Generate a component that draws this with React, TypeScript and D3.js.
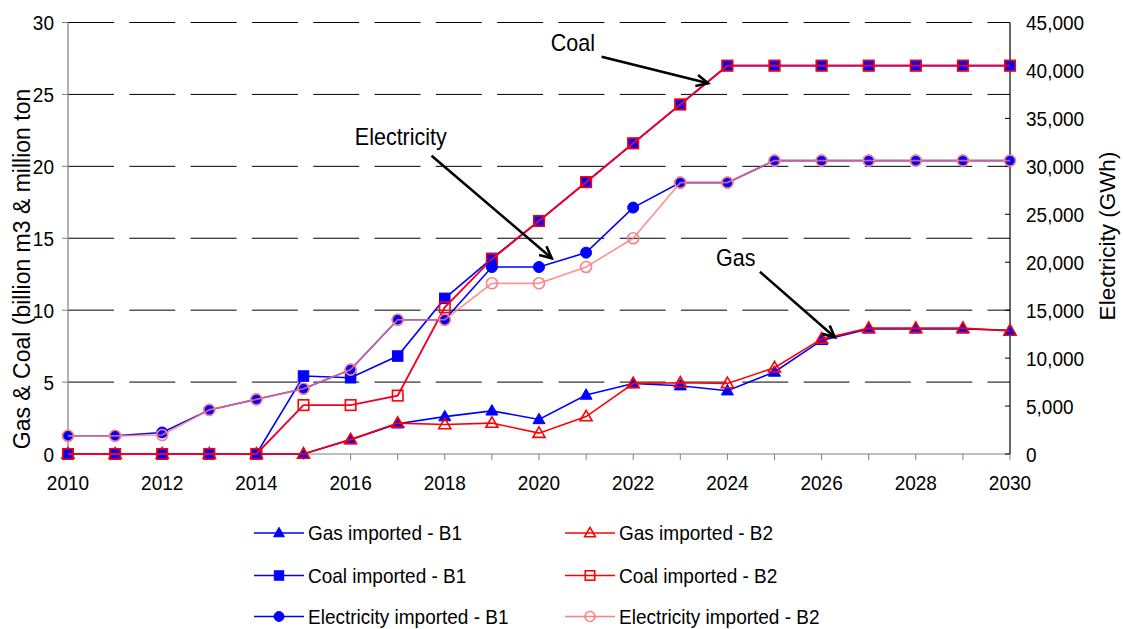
import React from "react";
import * as d3 from "d3";

const years = d3.range(2010, 2031);
const gasB1 = [0, 0, 0, 0, 0, 0, 1.0, 2.1, 2.6, 3.0, 2.4, 4.1, 4.9, 4.75, 4.4, 5.7, 7.9, 8.7, 8.7, 8.7, 8.6];
const gasB2 = [0, 0, 0, 0, 0, 0, 1.0, 2.15, 2.05, 2.15, 1.45, 2.6, 4.9, 4.95, 4.9, 6.0, 8.0, 8.75, 8.75, 8.75, 8.55];
const coalB1 = [0, 0, 0, 0, 0, 5.42, 5.3, 6.81, 10.82, 13.6, 16.2, 18.9, 21.6, 24.3, 27.0, 27.0, 27.0, 27.0, 27.0, 27.0, 27.0];
const coalB2 = [0, 0, 0, 0, 0, 3.4, 3.4, 4.06, 10.2, 13.55, 16.2, 18.9, 21.6, 24.3, 27.0, 27.0, 27.0, 27.0, 27.0, 27.0, 27.0];
const elecB1 = [1900, 1900, 2250, 4600, 5700, 6800, 8800, 14000, 14000, 19500, 19500, 21000, 25700, 28300, 28300, 30600, 30600, 30600, 30600, 30600, 30600];
const elecB2 = [1900, 1900, 1980, 4600, 5700, 6800, 8800, 14000, 14000, 17800, 17800, 19500, 22500, 28300, 28300, 30600, 30600, 30600, 30600, 30600, 30600];

const leftTicks = [0, 5, 10, 15, 20, 25, 30];
const rightTicks = d3.range(0, 45001, 5000);
const xLabelYears = d3.range(2010, 2031, 2);

const leftTitle = "Gas & Coal (billion m3 & million ton";
const rightTitle = "Electricity (GWh)";

type Series = {
  name: string;
  values: number[];
  axis: "L" | "R";
  color: string;
  lineColor: string;
  legendLine: string;
  lineOpacity: number;
  lineWidth: number;
  marker: "tri" | "sq" | "circ";
  filled: boolean;
};

const series: Series[] = [
  { name: "Gas imported - B1", values: gasB1, axis: "L", color: "#0000FF", lineColor: "#0000FF", legendLine: "#0000FF", lineOpacity: 1, lineWidth: 1.6, marker: "tri", filled: true },
  { name: "Gas imported - B2", values: gasB2, axis: "L", color: "#FF0000", lineColor: "#FF0000", legendLine: "#FF0000", lineOpacity: 1, lineWidth: 1.6, marker: "tri", filled: false },
  { name: "Coal imported - B1", values: coalB1, axis: "L", color: "#0000FF", lineColor: "#0000FF", legendLine: "#0000FF", lineOpacity: 1, lineWidth: 1.6, marker: "sq", filled: true },
  { name: "Coal imported - B2", values: coalB2, axis: "L", color: "#FF0000", lineColor: "#F0002A", legendLine: "#FF0000", lineOpacity: 1, lineWidth: 1.9, marker: "sq", filled: false },
  { name: "Electricity imported - B1", values: elecB1, axis: "R", color: "#0000FF", lineColor: "#0000FF", legendLine: "#0000FF", lineOpacity: 1, lineWidth: 1.6, marker: "circ", filled: true },
  { name: "Electricity imported - B2", values: elecB2, axis: "R", color: "#FF8080", lineColor: "#FF7A7A", legendLine: "#FF8080", lineOpacity: 0.8, lineWidth: 1.7, marker: "circ", filled: false },
];

const annotations = [
  { text: "Coal", tx: 2020.25, ty: 28.05, x1: 2021.33, y1: 27.62, x2: 2023.59, y2: 25.77 },
  { text: "Electricity", tx: 2016.09, ty: 21.5, x1: 2017.72, y1: 20.74, x2: 2020.27, y2: 13.61 },
  { text: "Gas", tx: 2023.76, ty: 13.1, x1: 2024.69, y1: 12.67, x2: 2026.28, y2: 8.11 },
];

const W = 1123;
const H = 629;
const L = 68;
const R = 1010;
const T = 22.5;
const B = 454;
const FONT = "Arial, 'Liberation Sans', sans-serif";
const FS = 19;
const SY = 1.1;

function Txt({ x, y, anchor = "start", size = FS, sy = SY, children }: { x: number; y: number; anchor?: string; size?: number; sy?: number; children: React.ReactNode }) {
  return (
    <g transform={`translate(${x},${y}) scale(1,${sy})`}>
      <text x={0} y={0} dy="0.36em" textAnchor={anchor as any} fontSize={size}>{children}</text>
    </g>
  );
}

function Marker({ kind, cx, cy, color, filled, size = 1 }: { kind: string; cx: number; cy: number; color: string; filled: boolean; size?: number }) {
  const fill = filled ? color : "none";
  const sw = filled ? 1 : 1.6;
  if (kind === "tri") {
    const h = 10.5 * size;
    const w = 12 * size;
    const pts = `${cx},${cy - h * 0.6} ${cx + w / 2},${cy + h * 0.4} ${cx - w / 2},${cy + h * 0.4}`;
    return <polygon points={pts} fill={fill} stroke={color} strokeWidth={sw} strokeLinejoin="miter" />;
  }
  if (kind === "sq") {
    const s = 10.5 * size;
    return <rect x={cx - s / 2} y={cy - s / 2} width={s} height={s} fill={fill} stroke={color} strokeWidth={sw} />;
  }
  return <circle cx={cx} cy={cy} r={5.5 * size} fill={fill} stroke={color} strokeWidth={sw} />;
}

export default function App() {
  const x = d3.scaleLinear().domain([2010, 2030]).range([L, R]);
  const yL = d3.scaleLinear().domain([0, 30]).range([B, T]);
  const yR = d3.scaleLinear().domain([0, 45000]).range([B, T]);
  const fmt = d3.format(",");

  const lineGen = (s: Series) => {
    const ys = s.axis === "L" ? yL : yR;
    return d3
      .line<number>()
      .x((_, i) => x(years[i]))
      .y((v) => ys(v))(s.values) as string;
  };

  const legendCols = [254, 565];
  const legendRows = [533, 575.5, 616.5];

  return (
    <svg width={W} height={H} style={{ position: "absolute", left: 0, top: 0, background: "#fff" }} fontFamily={FONT}>
      <rect x={0} y={0} width={W} height={H} fill="#fff" />
      {leftTicks.filter((t) => t > 0).map((t) => (
        <line key={"g" + t} x1={L} x2={R} y1={yL(t)} y2={yL(t)} stroke="#000" strokeWidth={1} strokeDasharray="46,15.3" />
      ))}
      <line x1={L} x2={L} y1={T} y2={B} stroke="#808080" strokeWidth={1.2} />
      <line x1={L} x2={R} y1={B} y2={B} stroke="#808080" strokeWidth={1.2} />
      <line x1={R} x2={R} y1={T} y2={B} stroke="#000" strokeWidth={1.2} />
      {leftTicks.map((t) => (
        <g key={"lt" + t}>
          <line x1={L - 6} x2={L} y1={yL(t)} y2={yL(t)} stroke="#808080" strokeWidth={1} />
          <Txt x={54} y={yL(t)} anchor="end">{t}</Txt>
        </g>
      ))}
      {rightTicks.map((t) => (
        <g key={"rt" + t}>
          <line x1={R - 5} x2={R} y1={yR(t)} y2={yR(t)} stroke="#000" strokeWidth={1} />
          <Txt x={1026} y={yR(t)}>{fmt(t)}</Txt>
        </g>
      ))}
      {years.map((yr) => (
        <line key={"xt" + yr} x1={x(yr)} x2={x(yr)} y1={B} y2={B + 6} stroke="#808080" strokeWidth={1} />
      ))}
      {xLabelYears.map((yr) => (
        <Txt key={"xl" + yr} x={x(yr)} y={482.5} anchor="middle">{yr}</Txt>
      ))}
      <text transform={`translate(30,269) rotate(-90)`} textAnchor="middle" fontSize={23}>{leftTitle}</text>
      <text transform={`translate(1115,236) rotate(-90)`} textAnchor="middle" fontSize={22.5}>{rightTitle}</text>

      {series.map((s) => {
        const ys = s.axis === "L" ? yL : yR;
        return (
          <g key={s.name}>
            <path d={lineGen(s)} fill="none" stroke={s.lineColor} strokeOpacity={s.lineOpacity} strokeWidth={s.lineWidth} />
            {s.values.map((v, i) => (
              <Marker key={i} kind={s.marker} cx={x(years[i])} cy={ys(v)} color={s.color} filled={s.filled} />
            ))}
          </g>
        );
      })}

      {annotations.map((a) => {
        const x1 = x(a.x1), y1 = yL(a.y1), x2 = x(a.x2), y2 = yL(a.y2);
        const ang = Math.atan2(y2 - y1, x2 - x1);
        const len = 13;
        const spread = Math.PI / 7;
        const ax1 = x2 - len * Math.cos(ang - spread), ay1 = y2 - len * Math.sin(ang - spread);
        const ax2 = x2 - len * Math.cos(ang + spread), ay2 = y2 - len * Math.sin(ang + spread);
        return (
          <g key={a.text}>
            <g transform={`translate(${x(a.tx)},${yL(a.ty)}) scale(1,${SY})`}>
              <text x={0} y={0} fontSize={21.5}>{a.text}</text>
            </g>
            <line x1={x1} y1={y1} x2={x2} y2={y2} stroke="#000" strokeWidth={2.6} />
            <polyline points={`${ax1},${ay1} ${x2},${y2} ${ax2},${ay2}`} fill="none" stroke="#000" strokeWidth={2.6} />
          </g>
        );
      })}

      {series.map((s, i) => {
        const col = i % 2;
        const row = Math.floor(i / 2);
        const lx = legendCols[col];
        const ly = legendRows[row];
        return (
          <g key={"lg" + s.name}>
            <line x1={lx} x2={lx + 50} y1={ly} y2={ly} stroke={s.legendLine} strokeWidth={1.6} />
            <Marker kind={s.marker} cx={lx + 25} cy={ly} color={s.color} filled={s.filled} size={0.9} />
            <Txt x={lx + 54} y={ly} sy={1.04}>{s.name}</Txt>
          </g>
        );
      })}
    </svg>
  );
}
